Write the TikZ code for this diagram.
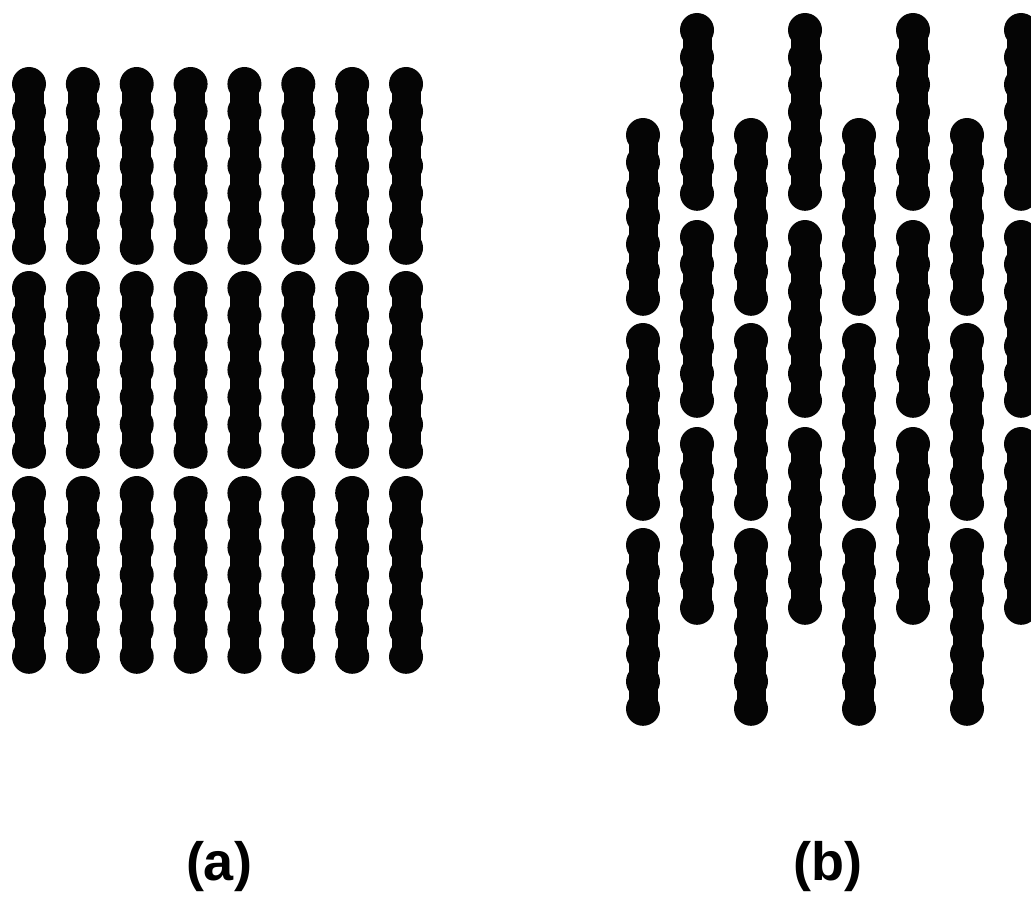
\documentclass[tikz,border=0pt]{standalone}
\usepackage{fontspec}
\setmainfont{Liberation Sans}
\definecolor{bead}{HTML}{050505}
\tikzset{
  beadfill/.style={fill=bead},
  panellabel/.style={inner sep=0pt, font=\bfseries\fontsize{54}{60}\selectfont},
  % one chain segment of seven overlapping beads, first bead centre at the origin
  beadchain/.pic={
    \fill[beadfill] (-14.5,0) rectangle (14.5,163.8);
    \foreach \k in {0,...,6}
      \fill[beadfill] (0,\k*27.3) circle[radius=17];
  }
}
\begin{document}
\begin{tikzpicture}[x=1pt,y=-1pt]
  \clip (0,0) rectangle (1031,899);
  \fill[white] (0,0) rectangle (1031,899);

  % (a) aligned chains: eight columns, three segments each
  \foreach \i in {0,...,7}
    \foreach \y in {84,288,493}
      \pic at ({29+53.86*\i},\y) {beadchain};

  % (b) staggered chains: alternate columns shifted by half a segment
  \foreach \i in {0,2,4,6}
    \foreach \y in {135,340,545}
      \pic at ({643+54*\i},\y) {beadchain};
  \foreach \i in {1,3,5,7}
    \foreach \y in {30,237,444}
      \pic at ({643+54*\i},\y) {beadchain};

  \node[panellabel] (labela) at (219,867) {(a)};
  \node[panellabel] (labelb) at (828,867) {(b)};
\end{tikzpicture}
\end{document}
